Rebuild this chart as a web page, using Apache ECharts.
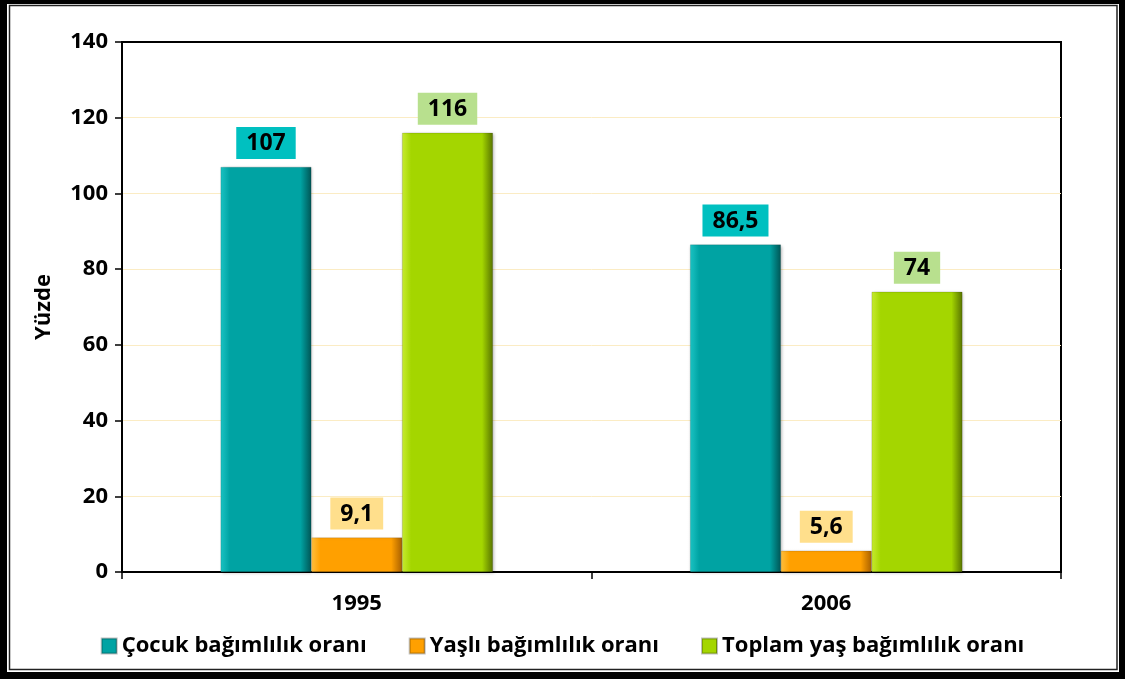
<!DOCTYPE html>
<html>
<head>
<meta charset="utf-8">
<script src="https://cdn.jsdelivr.net/npm/echarts@6/dist/echarts.min.js"></script>
<style>
html,body{margin:0;padding:0;background:#fff;}
#c{width:1125px;height:679px;}
</style>
</head>
<body>
<div id="c"></div>
<script>
var categories = ['1995', '2006'];
var seriesNames = ['Çocuk bağımlılık oranı', 'Yaşlı bağımlılık oranı', 'Toplam yaş bağımlılık oranı'];
var cocuk = [107, 86.5];
var yasli = [9.1, 5.6];
var toplam = [116, 74];
var yTicks = [0, 20, 40, 60, 80, 100, 120, 140];

var FONT = '"Open Sans", "DejaVu Sans", sans-serif';

function grad(light, base, dark) {
  return new echarts.graphic.LinearGradient(0, 0, 1, 0, [
    {offset: 0, color: light},
    {offset: 0.1, color: base},
    {offset: 0.88, color: base},
    {offset: 1, color: dark}
  ]);
}

var styles = [
  {bar: grad('#1cc4c4', '#00a3a3', '#005555'), lbl: '#00c0c0'},
  {bar: grad('#ffc040', '#ffa000', '#a86000'), lbl: '#ffdf8c'},
  {bar: grad('#c8ec30', '#a4d600', '#587400'), lbl: '#b8e08e'}
];
var data = [cocuk, yasli, toplam];

function fmt(v) { return String(v).replace('.', ','); }

var series = data.map(function (arr, i) {
  return {
    name: seriesNames[i],
    type: 'bar',
    data: arr,
    barGap: '0%',
    barCategoryGap: '42%',
    itemStyle: {color: styles[i].bar, borderColor: 'rgba(0,0,0,0.25)', borderWidth: 0.5,
      shadowColor: 'rgba(0,0,0,0.25)', shadowBlur: 3, shadowOffsetX: 1, shadowOffsetY: 1},
    label: {
      show: true,
      position: 'top',
      distance: 8,
      formatter: function (p) { return fmt(p.value); },
      fontFamily: FONT,
      fontWeight: 'bold',
      fontSize: 23,
      color: '#000',
      backgroundColor: styles[i].lbl,
      padding: [5, 10, 4, 10]
    }
  };
});

var chart = echarts.init(document.getElementById('c'));
chart.setOption({
  animation: false,
  backgroundColor: '#fff',
  graphic: [
    {type: 'rect', shape: {x: 0, y: 0, width: 1125, height: 679}, style: {fill: '#000'}, z: -10},
    {type: 'rect', shape: {x: 7, y: 4, width: 1112, height: 668}, style: {fill: '#fff'}, z: -9},
    {type: 'rect', shape: {x: 9.5, y: 5.5, width: 1107.5, height: 664}, style: {fill: 'none', stroke: '#222', lineWidth: 1.5}, z: -8}
  ],
  grid: {left: 122, right: 64, top: 42, bottom: 107, show: true, borderColor: '#000', borderWidth: 2},
  legend: {
    data: seriesNames,
    bottom: 17,
    left: 'center',
    itemWidth: 15,
    itemHeight: 15,
    itemGap: 42,
    icon: 'rect',
    textStyle: {fontFamily: FONT, fontWeight: 'bold', fontSize: 22, color: '#000'}
  },
  xAxis: {
    type: 'category',
    data: categories,
    axisLine: {lineStyle: {color: '#000', width: 2}},
    axisTick: {show: true, length: 7, lineStyle: {color: '#000', width: 1.5}},
    axisLabel: {fontFamily: FONT, fontWeight: 'bold', fontSize: 22, color: '#000', margin: 21}
  },
  yAxis: {
    type: 'value',
    min: yTicks[0],
    max: yTicks[yTicks.length - 1],
    interval: 20,
    name: 'Yüzde',
    nameLocation: 'middle',
    nameGap: 67,
    nameTextStyle: {fontFamily: FONT, fontWeight: 'bold', fontSize: 22, color: '#000'},
    axisLine: {show: true, lineStyle: {color: '#000', width: 2}},
    axisTick: {show: true, length: 7, lineStyle: {color: '#000', width: 1.5}},
    axisLabel: {fontFamily: FONT, fontWeight: 'bold', fontSize: 22, color: '#000', margin: 14},
    splitLine: {show: true, showMaxLine: false, showMinLine: false, lineStyle: {color: '#fbecc4', width: 1}}
  },
  series: series
});
</script>
</body>
</html>
